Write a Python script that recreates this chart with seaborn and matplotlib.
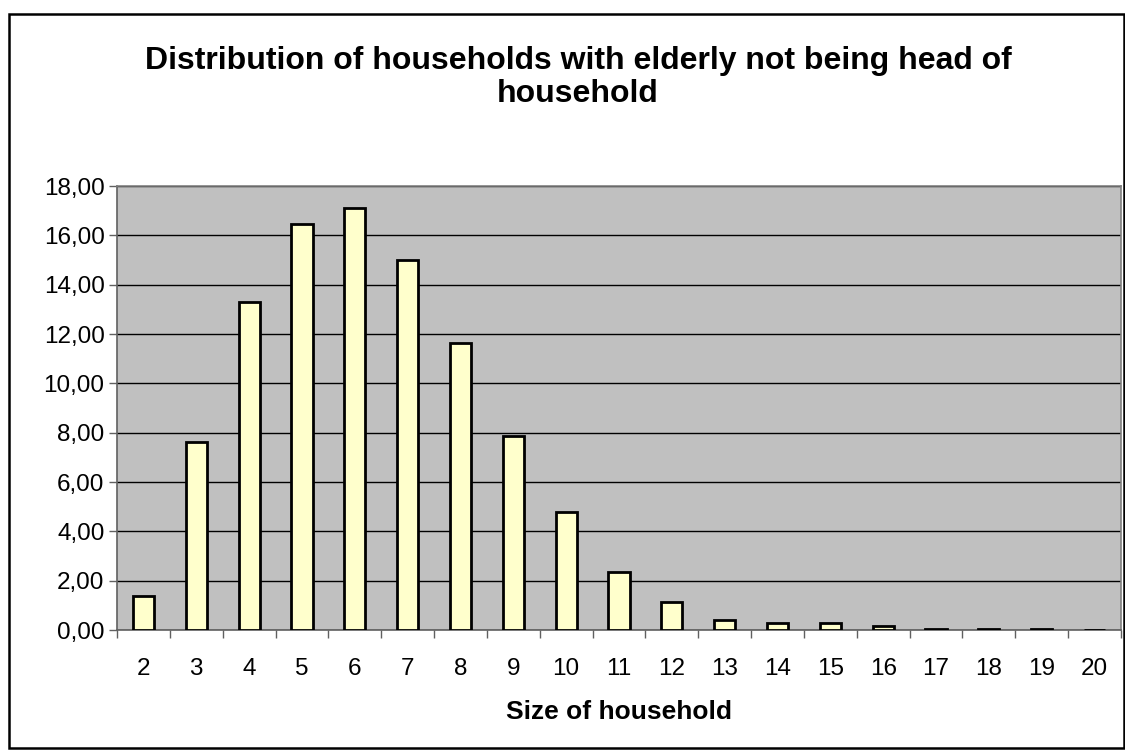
import matplotlib
matplotlib.use("Agg")
import matplotlib.pyplot as plt
import seaborn as sns
import pandas as pd
import numpy as np
from matplotlib.patches import Rectangle
from matplotlib.ticker import FixedLocator, FuncFormatter

sizes = [str(i) for i in range(2, 21)]
shares = [1.38, 7.62, 13.3, 16.46, 17.09, 15.0, 11.65, 7.86, 4.78, 2.35,
          1.13, 0.40, 0.27, 0.27, 0.16, 0.05, 0.05, 0.05, 0.0]
title = "Distribution of households with elderly not being head of\nhousehold"
xlabel = "Size of household"

sns.set_theme(style="white")
plt.rcParams['font.family'] = ['Liberation Sans', 'DejaVu Sans']
plt.rcParams['text.color'] = 'black'

df = pd.DataFrame({"size": sizes, "share": shares})

fig = plt.figure(figsize=(11.25, 7.52), dpi=100)
fig.patch.set_facecolor("white")
fig.patches.append(Rectangle((9/1125, 1 - 748/752), (1124-9)/1125, (748-14)/752,
                             transform=fig.transFigure, fill=False,
                             edgecolor="black", linewidth=1.8, zorder=10))

ax = fig.add_axes([117/1125, 1 - 630/752, (1121-117)/1125, (630-186)/752])
ax.set_facecolor("#C0C0C0")
sns.barplot(data=df, x="size", y="share", ax=ax, color="#FFFFCC",
            edgecolor="black", linewidth=2, width=0.40, saturation=1, zorder=3)

ax.set_ylim(0, 18)
ax.set_xlim(-0.5, len(sizes) - 0.5)
ax.set_yticks(np.arange(0, 19, 2))
ax.yaxis.set_major_formatter(FuncFormatter(lambda v, p: f"{v:.2f}".replace(".", ",")))
ax.yaxis.grid(True, color="black", linewidth=1, zorder=1)
ax.set_axisbelow(True)

ax.xaxis.set_major_locator(FixedLocator(np.arange(len(sizes))))
ax.xaxis.set_minor_locator(FixedLocator(np.arange(-0.5, len(sizes), 1.0)))
ax.tick_params(axis="x", which="major", bottom=True, length=0, labelsize=17.5,
               pad=20.5, labelcolor="black")
ax.tick_params(axis="x", which="minor", bottom=True, length=6, width=1,
               color="#606060", direction="out")
ax.tick_params(axis="y", which="major", left=True, length=6, width=1, color="#606060",
               direction="out", labelsize=17.5, labelcolor="black", pad=3)

for s in ax.spines.values():
    s.set_color("#808080")
    s.set_linewidth(1.2)
ax.spines["left"].set_color("#606060")
ax.spines["bottom"].set_color("#606060")

ax.set_xlabel(xlabel, fontsize=19, fontweight="bold", color="black", va="center")
ax.xaxis.set_label_coords((618.5 - 117) / (1121 - 117), -(712 - 630) / (630 - 186))
ax.set_ylabel("")
fig.text(578/1125, 1 - 77.5/752, title, ha="center", va="center", fontsize=23,
         fontweight="bold", linespacing=1.15, color="black")

fig.savefig("out.png", dpi=100)
